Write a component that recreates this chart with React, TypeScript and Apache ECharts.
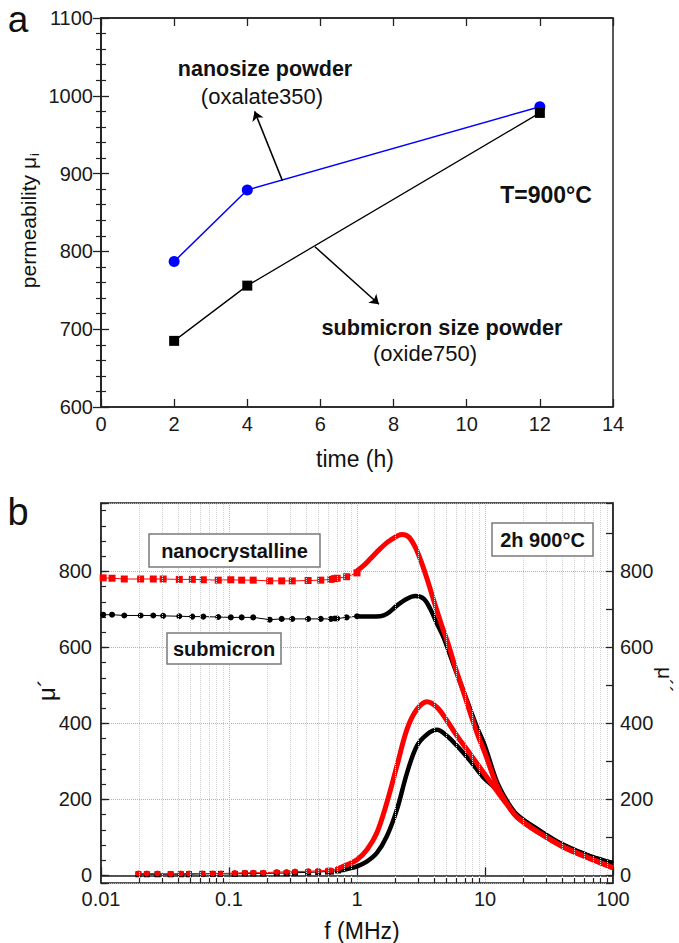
import React, { useEffect, useRef } from 'react';
import * as echarts from 'echarts';

const FONT = '"Liberation Sans", Arial, Helvetica, sans-serif';
const AXIS_COLOR = '#222';

// ---------- Panel a : permeability vs time ----------
const timeHours = [2, 4, 12];
const nanoPermeability = [787, 879, 986];
const submicronPermeability = [685, 756, 978];
const timeTicks = [0, 2, 4, 6, 8, 10, 12, 14];

// ---------- Panel b : spectra ----------
// mu' low-frequency (marker) part
const lowFreqMuP = [0.0104, 0.0122, 0.0152, 0.0204, 0.0256, 0.0306, 0.0409, 0.0517, 0.063, 0.0824, 0.1033, 0.1256, 0.1545, 0.208, 0.258, 0.312, 0.415, 0.521, 0.626, 0.67, 0.7, 0.83, 1.0];
const nanoMuPLow = [783, 782, 780, 780, 780, 780, 779, 779, 778, 777, 778, 777, 777, 775, 775, 775, 776, 777, 779, 781, 782, 786, 796];
const subMuPLow = [686, 686, 684, 684, 684, 683, 682, 681, 681, 680, 679, 679, 679, 673, 675, 675, 675, 675, 675, 676, 676, 679, 682];

// mu' high-frequency (continuous) part
const nanoMuPHighFreq = [0.97, 1.13, 1.27, 1.52, 1.82, 2.25, 2.53, 2.85, 3.22, 3.63, 4.09, 4.6, 5.2, 5.86, 6.6, 8.66, 10, 12.4, 14.9, 17.8, 26.8, 40.7, 66, 100];
const nanoMuPHigh = [798, 816, 833, 860, 882, 897, 891, 864, 820, 767, 710, 657, 605, 547, 495, 375, 322, 236, 188, 154, 111, 75, 44, 20];
const subMuPHighFreq = [1.0, 1.25, 1.52, 1.71, 2.05, 2.46, 2.85, 3.32, 3.74, 4.22, 4.76, 5.36, 6.04, 7.02, 8.66, 10, 12.4, 14.9, 17.8, 26.8, 40.7, 66, 100];
const subMuPHigh = [682, 681, 682, 688, 710, 728, 735, 728, 701, 662, 625, 578, 530, 472, 390, 340, 246, 195, 160, 118, 81, 51, 33];

// mu'' low-frequency (marker) part
const lowFreqMuPP = [0.0196, 0.0228, 0.0276, 0.035, 0.042, 0.0487, 0.0619, 0.0745, 0.0865, 0.111, 0.133, 0.155, 0.185, 0.236, 0.282, 0.328, 0.415, 0.497, 0.594, 0.625, 0.71];
const nanoMuPPLow = [5, 5, 5, 4, 5, 5, 5, 5, 5, 6, 7, 7, 7, 9, 9, 10, 11, 12, 13, 13, 17];
const subMuPPLow = [3, 3, 3, 3, 3, 3, 4, 4, 4, 4, 5, 5, 5, 6, 6, 7, 8, 9, 10, 10, 13];

// mu'' high-frequency (continuous) part
const muPPHighFreq = [0.7, 0.835, 1.0, 1.2, 1.43, 1.71, 2.05, 2.46, 2.94, 3.52, 4.22, 5.05, 6.04, 7.68, 9.76, 12.4, 14.9, 17.8, 26.8, 40.7, 66, 100];
const nanoMuPPHigh = [17, 28, 41, 68, 112, 191, 288, 385, 437, 457, 442, 407, 367, 319, 270, 222, 186, 153, 111, 76, 45, 20];
const subMuPPHigh = [12, 17, 24, 37, 59, 103, 173, 270, 341, 371, 383, 367, 341, 301, 257, 226, 191, 158, 116, 80, 50, 32];

// log-axis decoration positions (minor decades)
const decadeStarts = [0.01, 0.1, 1, 10];
const minorMultipliers = [2, 3, 4, 5, 6, 7, 8, 9];

const zip = (xs: number[], ys: number[]) => xs.map((x, i) => [x, ys[i]]);

function buildOption() {
  const minorFreqs = decadeStarts.flatMap((d) => minorMultipliers.map((m) => +(d * m).toPrecision(3)));

  const tickLabel = { fontFamily: FONT, fontSize: 20, color: '#1a1a1a' };
  const axisLine = { show: true, lineStyle: { color: AXIS_COLOR, width: 1.5 } };
  const every200 = (v: number) => (v >= 0 && Math.abs(v % 200) < 1e-6 ? String(Math.round(v)) : '');

  const txt = (text: string, x: number, y: number, size: number, bold = false, extra: any = {}) => ({
    type: 'text',
    x,
    y,
    z: 20,
    ...extra,
    style: {
      text,
      fontFamily: FONT,
      fontSize: size,
      fontWeight: bold ? 'bold' : 'normal',
      fill: '#111',
      align: extra.align || 'center',
      verticalAlign: 'middle',
    },
  });
  const box = (x: number, y: number, w: number, h: number) => ({
    type: 'rect',
    z: 19,
    shape: { x, y, width: w, height: h },
    style: { fill: '#fff', stroke: '#7a7a7a', lineWidth: 1.5 },
  });

  const lowLine = (color: string) => ({ color, width: 1 });

  return {
    animation: false,
    backgroundColor: '#fff',
    grid: [
      { left: 101, top: 18, width: 512, height: 389, show: true, borderColor: AXIS_COLOR, borderWidth: 1.5, backgroundColor: 'transparent' },
      { left: 101, top: 503, width: 512, height: 380, show: true, borderColor: AXIS_COLOR, borderWidth: 1.5, backgroundColor: 'transparent' },
    ],
    xAxis: [
      {
        gridIndex: 0, type: 'value', min: timeTicks[0], max: timeTicks[timeTicks.length - 1], interval: 2, position: 'bottom',
        axisLine, axisTick: { inside: true, length: 8, lineStyle: { color: AXIS_COLOR, width: 1.3 } },
        axisLabel: { ...tickLabel, margin: 7 }, splitLine: { show: false },
      },
      {
        gridIndex: 0, type: 'value', min: timeTicks[0], max: timeTicks[timeTicks.length - 1], interval: 2, position: 'top',
        axisLine, axisTick: { inside: true, length: 8, lineStyle: { color: AXIS_COLOR, width: 1.3 } },
        axisLabel: { show: false }, splitLine: { show: false },
      },
      {
        gridIndex: 1, type: 'log', logBase: 10, min: 0.01, max: 100, position: 'bottom',
        axisLine, axisTick: { inside: true, length: 8, lineStyle: { color: AXIS_COLOR, width: 1.3 } },
        axisLabel: { ...tickLabel, margin: 6, formatter: (v: number) => (v >= 1 ? String(Math.round(v)) : String(+v.toFixed(2))) },
        splitLine: { show: true, lineStyle: { type: 'dotted', color: '#bdbdbd', width: 1 } },
        minorTick: { show: false },
      },
    ],
    yAxis: [
      {
        gridIndex: 0, type: 'value', min: 600, max: 1100, interval: 100, position: 'left',
        axisLine, axisTick: { inside: true, length: 8, lineStyle: { color: AXIS_COLOR, width: 1.3 } },
        minorTick: { show: true, splitNumber: 5, length: 5, lineStyle: { color: AXIS_COLOR, width: 1.2 } },
        axisLabel: { ...tickLabel, margin: 8, formatter: (v: number) => String(Math.round(v)) }, splitLine: { show: false },
      },
      {
        gridIndex: 0, type: 'value', min: 600, max: 1100, interval: 100, position: 'right',
        axisLine, axisTick: { inside: true, length: 8, lineStyle: { color: AXIS_COLOR, width: 1.3 } },
        minorTick: { show: true, splitNumber: 5, length: 5, lineStyle: { color: AXIS_COLOR, width: 1.2 } },
        axisLabel: { show: false }, splitLine: { show: false },
      },
      {
        gridIndex: 1, type: 'value', min: -20, max: 980, minInterval: 200, maxInterval: 200, splitNumber: 5, position: 'left',
        axisLine, axisTick: { inside: true, length: 8, lineStyle: { color: AXIS_COLOR, width: 1.3 } },
        axisLabel: { ...tickLabel, margin: 9, formatter: every200 },
        splitLine: { show: true, lineStyle: { type: 'dotted', color: '#b0b0b0', width: 1 } },
      },
      {
        gridIndex: 1, type: 'value', min: -20, max: 980, minInterval: 40, maxInterval: 40, splitNumber: 25, position: 'left',
        axisLine: { show: false }, axisTick: { inside: true, length: 5, lineStyle: { color: AXIS_COLOR, width: 1.2 } },
        axisLabel: { show: false }, splitLine: { show: false },
      },
      {
        gridIndex: 1, type: 'value', min: -20, max: 980, minInterval: 100, maxInterval: 100, splitNumber: 10, position: 'right',
        axisLine, axisTick: { inside: true, length: 7, lineStyle: { color: AXIS_COLOR, width: 1.3 } },
        axisLabel: { ...tickLabel, margin: 7, formatter: every200 },
        splitLine: { show: false },
      },
    ],
    series: [
      // ----- panel a -----
      {
        type: 'line', xAxisIndex: 0, yAxisIndex: 0, data: zip(timeHours, nanoPermeability),
        symbol: 'circle', symbolSize: 11, lineStyle: { color: '#0000ff', width: 1.5 }, itemStyle: { color: '#0000ff' }, z: 3,
      },
      {
        type: 'line', xAxisIndex: 0, yAxisIndex: 0, data: zip(timeHours, submicronPermeability),
        symbol: 'rect', symbolSize: 10, lineStyle: { color: '#000', width: 1.3 }, itemStyle: { color: '#000' }, z: 4,
        markLine: {
          silent: true, symbol: ['none', 'arrow'], symbolSize: 9, label: { show: false },
          lineStyle: { color: '#000', width: 1.5, type: 'solid' }, itemStyle: { color: '#000' },
          data: [
            [{ coord: [4.96, 891] }, { coord: [4.2, 980] }],
            [{ coord: [5.85, 806] }, { coord: [7.6, 732] }],
          ],
        },
      },
      // ----- panel b : decorations (minor log grid + minor ticks) -----
      {
        type: 'line', xAxisIndex: 2, yAxisIndex: 2, data: [[1, -1000]], symbol: 'none', lineStyle: { opacity: 0 }, z: 1,
        markLine: {
          silent: true, symbol: 'none', label: { show: false },
          data: [
            ...minorFreqs.map((f) => ({ xAxis: f, lineStyle: { type: 'dotted', color: '#d0d0d0', width: 1 } })),
            ...minorFreqs.map((f) => [
              { coord: [f, -20], lineStyle: { type: 'solid', color: AXIS_COLOR, width: 1.2 } },
              { coord: [f, -7] },
            ]),
          ],
        },
      },
      // black mu''
      {
        type: 'line', xAxisIndex: 2, yAxisIndex: 2, data: zip(lowFreqMuPP, subMuPPLow),
        symbol: 'rect', symbolSize: 6, lineStyle: lowLine('#000'), itemStyle: { color: '#000' }, z: 3,
      },
      {
        type: 'line', xAxisIndex: 2, yAxisIndex: 2, data: zip(muPPHighFreq, subMuPPHigh), smooth: 0.35,
        symbol: 'none', lineStyle: { color: '#000', width: 4.5 }, z: 3,
      },
      // black mu'
      {
        type: 'line', xAxisIndex: 2, yAxisIndex: 2, data: zip(lowFreqMuP, subMuPLow),
        symbol: 'circle', symbolSize: 6, lineStyle: lowLine('#000'), itemStyle: { color: '#000' }, z: 3,
      },
      {
        type: 'line', xAxisIndex: 2, yAxisIndex: 2, data: zip(subMuPHighFreq, subMuPHigh), smooth: 0.35,
        symbol: 'none', lineStyle: { color: '#000', width: 4.5 }, z: 3,
      },
      // red mu''
      {
        type: 'line', xAxisIndex: 2, yAxisIndex: 2, data: zip(lowFreqMuPP, nanoMuPPLow),
        symbol: 'circle', symbolSize: 6, lineStyle: lowLine('#ff0000'), itemStyle: { color: '#ff0000' }, z: 4,
      },
      {
        type: 'line', xAxisIndex: 2, yAxisIndex: 2, data: zip(muPPHighFreq, nanoMuPPHigh), smooth: 0.35,
        symbol: 'none', lineStyle: { color: '#ff0000', width: 5 }, z: 4,
      },
      // red mu'
      {
        type: 'line', xAxisIndex: 2, yAxisIndex: 2, data: zip(lowFreqMuP, nanoMuPLow),
        symbol: 'rect', symbolSize: 7, lineStyle: lowLine('#ff0000'), itemStyle: { color: '#ff0000' }, z: 4,
      },
      {
        type: 'line', xAxisIndex: 2, yAxisIndex: 2, data: zip(nanoMuPHighFreq, nanoMuPHigh), smooth: 0.35,
        symbol: 'none', lineStyle: { color: '#ff0000', width: 5 }, z: 4,
      },
    ],
    graphic: {
      elements: [
        // panel letters
        txt('a', 18, 19, 37),
        txt('b', 18, 512, 38),
        // panel a annotations
        txt('nanosize powder', 265, 69, 21.5, true),
        txt('(oxalate350)', 262, 96, 22),
        txt('T=900°C', 546, 195, 23, true),
        txt('submicron size powder', 442, 327, 21.7, true),
        txt('(oxide750)', 425, 353, 22),
        // panel a axis names
        txt('time (h)', 355, 459, 23),
        txt('permeability μ', 28, 157, 21, false, { rotation: Math.PI / 2, align: 'right' }),
        txt('i', 34, 156, 13, false, { rotation: Math.PI / 2, align: 'left' }),
        // panel b boxes
        box(149, 534, 171, 33),
        txt('nanocrystalline', 234.5, 550.5, 20, true),
        box(167, 633, 114, 31),
        txt('submicron', 224, 648.5, 20, true),
        box(492, 523, 101, 33),
        txt('2h 900°C', 542.5, 539.5, 20, true),
        // panel b axis names
        txt('f (MHz)', 362, 931, 23),
        txt('μ´', 46, 690, 24, false, { rotation: Math.PI / 2 }),
        txt('μ´´', 665, 680, 21, false, { rotation: -Math.PI / 2 }),
      ],
    },
  };
}

export default function App() {
  const ref = useRef<HTMLDivElement>(null);
  useEffect(() => {
    if (!ref.current) return;
    const chart = echarts.init(ref.current, null, { renderer: 'svg' });
    chart.setOption(buildOption() as any);
    return () => chart.dispose();
  }, []);
  return (
    <div
      ref={ref}
      style={{ position: 'fixed', left: 0, top: 0, width: 679, height: 943, background: '#fff' }}
    />
  );
}
